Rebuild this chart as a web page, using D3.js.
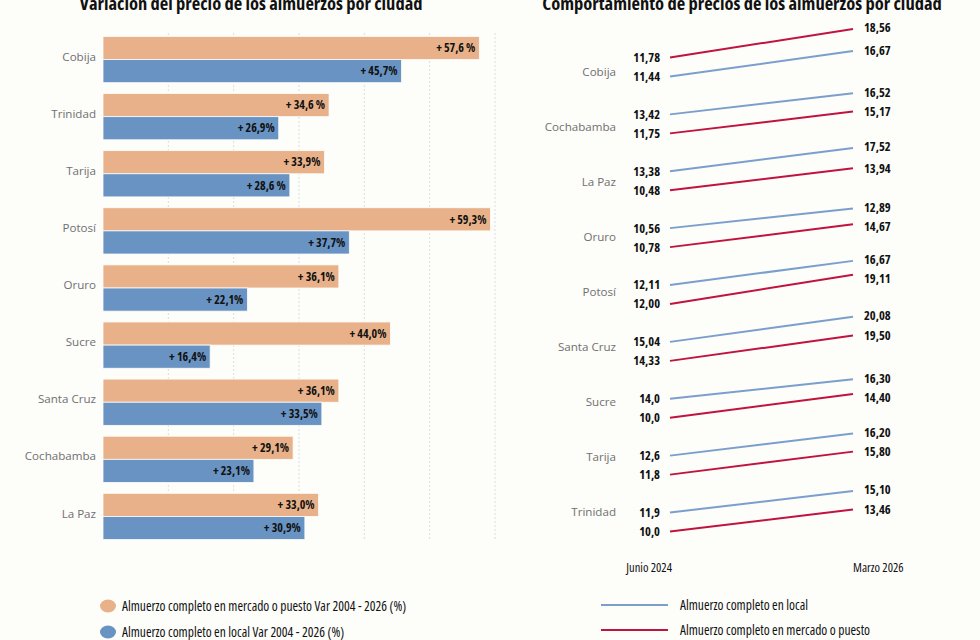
<!DOCTYPE html>
<html>
<head>
<meta charset="utf-8">
<script src="https://cdn.jsdelivr.net/npm/d3@7/dist/d3.min.js"></script>
<style>
  body { margin: 0; background: #fdfdfa; }
  svg { display: block; }
  .cond { font-family: 'Open Sans', sans-serif; font-stretch: 75%; }
  .city { font-family: 'Open Sans', sans-serif; font-size: 11.6px; fill: #707070; }
</style>
</head>
<body>
<div id="chart"></div>
<script>
// left chart: price variation 2004 - 2026
var barCities = ['Cobija', 'Trinidad', 'Tarija', 'Potosí', 'Oruro', 'Sucre', 'Santa Cruz', 'Cochabamba', 'La Paz'];
var varMercado = [57.6, 34.6, 33.9, 59.3, 36.1, 44.0, 36.1, 29.1, 33.0];
var varLocal = [45.7, 26.9, 28.6, 37.7, 22.1, 16.4, 33.5, 23.1, 30.9];
var varMercadoText = ['+ 57,6 %', '+ 34,6 %', '+ 33,9%', '+ 59,3%', '+ 36,1%', '+ 44,0%', '+ 36,1%', '+ 29,1%', '+ 33,0%'];
var varLocalText = ['+ 45,7%', '+ 26,9%', '+ 28,6 %', '+ 37,7%', '+ 22,1%', '+ 16,4%', '+ 33,5%', '+ 23,1%', '+ 30,9%'];
var xTicks = [0, 10, 20, 30, 40, 50, 60];

// right chart: prices June 2024 -> March 2026
var slopeCities = ['Cobija', 'Cochabamba', 'La Paz', 'Oruro', 'Potosí', 'Santa Cruz', 'Sucre', 'Tarija', 'Trinidad'];
var periods = ['Junio 2024', 'Marzo 2026'];
var localJun = [11.44, 13.42, 13.38, 10.56, 12.11, 15.04, 14.0, 12.6, 11.9];
var localMar = [16.67, 16.52, 17.52, 12.89, 16.67, 20.08, 16.30, 16.20, 15.10];
var mercadoJun = [11.78, 11.75, 10.48, 10.78, 12.00, 14.33, 10.0, 11.8, 10.0];
var mercadoMar = [18.56, 15.17, 13.94, 14.67, 19.11, 19.50, 14.40, 15.80, 13.46];
var localJunText = ['11,44', '13,42', '13,38', '10,56', '12,11', '15,04', '14,0', '12,6', '11,9'];
var localMarText = ['16,67', '16,52', '17,52', '12,89', '16,67', '20,08', '16,30', '16,20', '15,10'];
var mercadoJunText = ['11,78', '11,75', '10,48', '10,78', '12,00', '14,33', '10,0', '11,8', '10,0'];
var mercadoMarText = ['18,56', '15,17', '13,94', '14,67', '19,11', '19,50', '14,40', '15,80', '13,46'];
var topSeries = ['mercado', 'local', 'local', 'local', 'local', 'local', 'local', 'local', 'local'];

var colors = { mercadoBar: '#e8b189', localBar: '#6893c3', local: '#7b9fcc', mercado: '#c0133d' };

var svg = d3.select('#chart').append('svg')
    .attr('width', 980)
    .attr('height', 640);

// ---- titles
svg.append('text')
    .attr('class', 'cond')
    .attr('x', 251).attr('y', 10)
    .attr('text-anchor', 'middle')
    .style('font-size', '18.5px').style('font-weight', 700).style('fill', '#111')
    .text('Variación del precio de los almuerzos por ciudad');
svg.append('text')
    .attr('class', 'cond')
    .attr('x', 742).attr('y', 10)
    .attr('text-anchor', 'middle')
    .style('font-size', '18.5px').style('font-weight', 700).style('fill', '#111')
    .text('Comportamiento de precios de los almuerzos por ciudad');

// ---- bar chart
var x = d3.scaleLinear().domain([0, 60]).range([103, 495]);
var y = d3.scaleBand().domain(barCities).range([31, 545]).paddingInner(0.19).paddingOuter(0.095);
var bw = y.bandwidth() / 2;

svg.append('g').selectAll('line')
    .data(xTicks.slice(1))
    .join('line')
    .attr('x1', function (d) { return x(d); })
    .attr('x2', function (d) { return x(d); })
    .attr('y1', 33).attr('y2', 540)
    .attr('stroke', '#dcdcdc')
    .attr('stroke-dasharray', '2,2');

var groups = svg.append('g').selectAll('g')
    .data(barCities)
    .join('g')
    .attr('transform', function (d) { return 'translate(0,' + y(d) + ')'; });

groups.append('rect')
    .attr('x', x(0)).attr('y', 0)
    .attr('width', function (d, i) { return x(varMercado[i]) - x(0); })
    .attr('height', bw)
    .attr('fill', colors.mercadoBar)
    .attr('stroke', '#fdfdfa').attr('stroke-width', 0.8);
groups.append('rect')
    .attr('x', x(0)).attr('y', bw)
    .attr('width', function (d, i) { return x(varLocal[i]) - x(0); })
    .attr('height', bw)
    .attr('fill', colors.localBar)
    .attr('stroke', '#fdfdfa').attr('stroke-width', 0.8);

groups.append('text')
    .attr('class', 'cond')
    .attr('x', function (d, i) { return x(varMercado[i]) - 4; })
    .attr('y', bw / 2).attr('dy', '0.35em')
    .attr('text-anchor', 'end')
    .style('font-size', '12px').style('font-weight', 700).style('fill', '#111')
    .text(function (d, i) { return varMercadoText[i]; });
groups.append('text')
    .attr('class', 'cond')
    .attr('x', function (d, i) { return x(varLocal[i]) - 4; })
    .attr('y', bw * 1.5).attr('dy', '0.35em')
    .attr('text-anchor', 'end')
    .style('font-size', '12px').style('font-weight', 700).style('fill', '#111')
    .text(function (d, i) { return varLocalText[i]; });

groups.append('text')
    .attr('class', 'city')
    .attr('x', 96)
    .attr('y', bw - 3).attr('dy', '0.35em')
    .attr('text-anchor', 'end')
    .text(function (d) { return d; });

// ---- slope chart
var px = d3.scalePoint().domain(periods).range([670, 853]);
var mid = d3.scalePoint().domain(slopeCities).range([67, 522]);
var labelY = d3.scalePoint().domain(slopeCities).range([72, 512]);
var rise = d3.scaleLinear().domain([0, 8]).range([15, 31]);

var slopeData = [];
slopeCities.forEach(function (c, i) {
    ['local', 'mercado'].forEach(function (s) {
        var start = s === 'local' ? localJun[i] : mercadoJun[i];
        var end = s === 'local' ? localMar[i] : mercadoMar[i];
        var isTop = topSeries[i] === s;
        var y0 = mid(c) + (isTop ? -9.5 : 9.5);
        slopeData.push({
            city: c, series: s, top: isTop, y0: y0, y1: y0 - rise(end - start),
            t0: s === 'local' ? localJunText[i] : mercadoJunText[i],
            t1: s === 'local' ? localMarText[i] : mercadoMarText[i]
        });
    });
});
// end labels: upper one at its line end, lower one kept at least 19px below
slopeCities.forEach(function (c) {
    var pair = slopeData.filter(function (d) { return d.city === c; });
    var up = pair.filter(function (d) { return d.top; })[0];
    var lo = pair.filter(function (d) { return !d.top; })[0];
    up.ly1 = up.y1 - 1;
    lo.ly1 = Math.max(lo.y1, up.ly1 + 19);
    up.ly0 = up.y0;
    lo.ly0 = Math.max(lo.y0, up.ly0 + 19);
});

svg.append('g').selectAll('line')
    .data(slopeData)
    .join('line')
    .attr('x1', px(periods[0])).attr('x2', px(periods[1]))
    .attr('y1', function (d) { return d.y0; })
    .attr('y2', function (d) { return d.y1; })
    .attr('stroke', function (d) { return colors[d.series]; })
    .attr('stroke-width', 2);

svg.append('g').selectAll('text')
    .data(slopeData)
    .join('text')
    .attr('class', 'cond')
    .attr('x', px(periods[0]) - 10)
    .attr('y', function (d) { return d.ly0; }).attr('dy', '0.35em')
    .attr('text-anchor', 'end')
    .style('font-size', '12.5px').style('font-weight', 700).style('fill', '#111')
    .text(function (d) { return d.t0; });

svg.append('g').selectAll('text')
    .data(slopeData)
    .join('text')
    .attr('class', 'cond')
    .attr('x', px(periods[1]) + 11)
    .attr('y', function (d) { return d.ly1; }).attr('dy', '0.35em')
    .style('font-size', '12.5px').style('font-weight', 700).style('fill', '#111')
    .text(function (d) { return d.t1; });

svg.append('g').selectAll('text')
    .data(slopeCities)
    .join('text')
    .attr('class', 'city')
    .attr('x', 616)
    .attr('y', function (d) { return labelY(d); }).attr('dy', '0.35em')
    .attr('text-anchor', 'end')
    .text(function (d) { return d; });

svg.append('g').selectAll('text')
    .data(periods)
    .join('text')
    .attr('class', 'cond')
    .attr('x', function (d, i) { return i === 0 ? px(d) + 2 : px(d); })
    .attr('y', 568).attr('dy', '0.35em')
    .attr('text-anchor', function (d, i) { return i === 0 ? 'end' : 'start'; })
    .style('font-size', '12.5px').style('fill', '#111')
    .text(function (d) { return d; });

// ---- legends
var barLegend = [
    { label: 'Almuerzo completo en mercado o puesto Var 2004 - 2026 (%)', color: colors.mercadoBar },
    { label: 'Almuerzo completo en local Var 2004 - 2026 (%)', color: colors.localBar }
];
var lineLegend = [
    { label: 'Almuerzo completo en local', color: colors.local },
    { label: 'Almuerzo completo en mercado o puesto', color: colors.mercado }
];

var lg = svg.append('g').selectAll('g')
    .data(barLegend)
    .join('g')
    .attr('transform', function (d, i) { return 'translate(108,' + (606 + i * 26) + ')'; });
lg.append('ellipse').attr('rx', 8).attr('ry', 6.5).attr('fill', function (d) { return d.color; });
lg.append('text')
    .attr('class', 'cond')
    .attr('x', 14).attr('dy', '0.35em')
    .style('font-size', '13.5px').style('fill', '#111')
    .text(function (d) { return d.label; });

var ll = svg.append('g').selectAll('g')
    .data(lineLegend)
    .join('g')
    .attr('transform', function (d, i) { return 'translate(601,' + (605 + i * 25) + ')'; });
ll.append('line').attr('x1', 0).attr('x2', 67)
    .attr('stroke', function (d) { return d.color; }).attr('stroke-width', 2);
ll.append('text')
    .attr('class', 'cond')
    .attr('x', 79).attr('dy', '0.35em')
    .style('font-size', '13.5px').style('fill', '#111')
    .text(function (d) { return d.label; });
</script>
</body>
</html>
